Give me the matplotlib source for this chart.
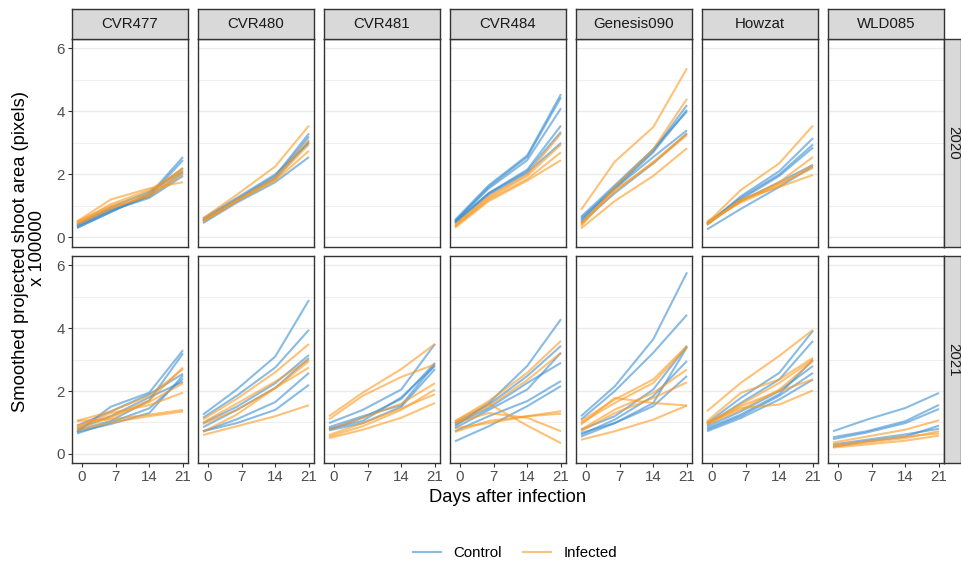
import matplotlib
matplotlib.use("Agg")
import matplotlib.pyplot as plt
from matplotlib.lines import Line2D

plt.rcParams['font.family'] = ['Liberation Sans', 'DejaVu Sans']

genotypes = ["CVR477", "CVR480", "CVR481", "CVR484", "Genesis090", "Howzat", "WLD085"]
years = ["2020", "2021"]
days = [-1, 6, 14, 21]

control_2020 = {
    "CVR477": [[0.30, 0.80, 1.35, 2.55], [0.35, 0.85, 1.30, 2.45], [0.40, 0.90, 1.30, 2.05],
               [0.35, 0.85, 1.25, 1.95], [0.30, 0.80, 1.40, 2.20], [0.40, 0.95, 1.45, 2.10]],
    "CVR480": [[0.45, 1.10, 1.75, 2.55], [0.55, 1.20, 1.95, 3.30], [0.55, 1.20, 1.90, 3.20],
               [0.50, 1.15, 1.85, 3.05], [0.60, 1.25, 2.00, 3.00]],
    "CVR481": [],
    "CVR484": [[0.55, 1.65, 2.60, 4.55], [0.50, 1.60, 2.55, 4.45], [0.50, 1.55, 2.45, 4.10],
               [0.45, 1.40, 2.15, 3.55], [0.50, 1.40, 2.10, 3.35], [0.45, 1.35, 2.05, 3.00]],
    "Genesis090": [[0.55, 1.60, 2.75, 4.20], [0.50, 1.55, 2.70, 4.05], [0.60, 1.55, 2.55, 3.40],
                   [0.45, 1.40, 2.35, 3.30], [0.65, 1.65, 2.80, 4.00]],
    "Howzat": [[0.40, 1.30, 2.10, 3.15], [0.45, 1.25, 2.00, 2.95], [0.40, 1.20, 1.95, 2.85],
               [0.25, 0.90, 1.60, 2.25], [0.45, 1.15, 1.75, 2.30]],
    "WLD085": [],
}
infected_2020 = {
    "CVR477": [[0.50, 1.20, 1.55, 1.75], [0.45, 1.05, 1.50, 2.15], [0.50, 1.00, 1.40, 2.20],
               [0.45, 0.95, 1.30, 2.00], [0.40, 0.90, 1.35, 2.10]],
    "CVR480": [[0.60, 1.35, 2.25, 3.55], [0.50, 1.15, 1.80, 2.75], [0.55, 1.20, 1.85, 2.95],
               [0.50, 1.15, 1.90, 3.10]],
    "CVR481": [],
    "CVR484": [[0.40, 1.30, 2.00, 3.30], [0.35, 1.25, 1.95, 2.95], [0.35, 1.20, 1.85, 2.70],
               [0.30, 1.15, 1.80, 2.45]],
    "Genesis090": [[0.87, 2.40, 3.50, 5.37], [0.35, 1.60, 2.80, 4.40], [0.45, 1.50, 2.35, 3.25],
                   [0.28, 1.15, 1.95, 2.83], [0.40, 1.45, 2.40, 3.30]],
    "Howzat": [[0.45, 1.50, 2.35, 3.55], [0.40, 1.15, 1.75, 2.55], [0.50, 1.10, 1.65, 2.30],
               [0.45, 1.15, 1.70, 2.20], [0.40, 1.20, 1.60, 1.98]],
    "WLD085": [],
}
control_2021 = {
    "CVR477": [[0.70, 1.50, 1.95, 3.30], [0.75, 1.05, 1.70, 3.20], [0.70, 0.95, 1.30, 2.50],
               [0.65, 1.00, 1.45, 2.40], [0.80, 1.20, 1.80, 2.30], [0.90, 1.35, 1.90, 2.55]],
    "CVR480": [[1.25, 2.05, 3.10, 4.90], [1.15, 1.85, 2.75, 3.95], [0.98, 1.50, 2.25, 3.15],
               [0.72, 1.10, 1.65, 2.58], [0.72, 0.98, 1.40, 2.20], [0.85, 1.40, 2.10, 3.05]],
    "CVR481": [[0.98, 1.40, 2.05, 3.50], [0.77, 1.15, 1.75, 2.90], [0.75, 0.98, 1.50, 2.70],
               [0.80, 1.05, 1.80, 2.80], [0.85, 1.20, 1.55, 2.85]],
    "CVR484": [[0.88, 1.62, 2.80, 4.29], [0.98, 1.57, 2.48, 3.44], [0.93, 1.46, 2.26, 2.90],
               [0.72, 1.20, 1.68, 2.32], [0.40, 0.88, 1.52, 2.16], [0.82, 1.40, 2.05, 3.22]],
    "Genesis090": [[1.20, 2.15, 3.65, 5.78], [1.09, 2.00, 3.22, 4.43], [0.77, 1.20, 2.05, 3.44],
                   [0.61, 1.09, 1.84, 2.96], [0.66, 0.98, 1.52, 2.48], [0.55, 0.98, 1.62, 3.40]],
    "Howzat": [[0.98, 1.78, 2.58, 3.92], [0.93, 1.62, 2.37, 3.60], [0.88, 1.35, 2.00, 2.80],
               [0.77, 1.20, 1.85, 2.58], [0.72, 1.14, 1.73, 2.37], [0.82, 1.25, 1.90, 3.00]],
    "WLD085": [[0.72, 1.09, 1.46, 1.94], [0.53, 0.72, 1.04, 1.56], [0.47, 0.68, 0.98, 1.43],
               [0.23, 0.40, 0.55, 0.90], [0.30, 0.45, 0.62, 0.80]],
}
infected_2021 = {
    "CVR477": [[1.05, 1.10, 1.25, 1.40], [0.85, 1.30, 1.55, 1.95], [1.05, 1.35, 1.85, 2.70],
               [0.90, 1.20, 1.70, 2.75], [0.80, 1.15, 1.65, 2.25], [0.75, 1.00, 1.20, 1.35]],
    "CVR480": [[1.10, 1.75, 2.60, 3.50], [1.00, 1.60, 2.30, 3.00], [0.95, 1.40, 2.10, 2.95],
               [0.70, 1.25, 2.10, 2.75], [0.60, 0.88, 1.20, 1.55]],
    "CVR481": [[1.20, 1.95, 2.70, 3.50], [1.10, 1.85, 2.45, 2.85], [0.77, 1.15, 1.60, 2.25],
               [0.55, 0.88, 1.40, 2.05], [0.50, 0.77, 1.15, 1.62], [0.60, 0.98, 1.45, 1.90]],
    "CVR484": [[1.04, 1.68, 2.58, 3.60], [0.98, 1.52, 2.35, 3.22], [1.04, 1.60, 0.90, 0.34],
               [0.98, 1.30, 1.15, 0.72], [0.82, 0.98, 1.20, 1.36], [0.70, 1.05, 1.20, 1.28]],
    "Genesis090": [[1.04, 1.73, 2.37, 3.44], [0.98, 1.62, 2.26, 3.40], [0.93, 1.78, 1.62, 1.54],
                   [0.45, 0.72, 1.09, 1.54], [0.77, 1.41, 1.94, 2.69], [0.72, 1.30, 1.78, 2.28]],
    "Howzat": [[1.36, 2.26, 3.12, 3.95], [1.04, 1.94, 2.37, 3.06], [0.98, 1.57, 2.26, 3.00],
               [1.00, 1.46, 1.57, 2.02], [0.93, 1.52, 2.00, 2.37], [0.95, 1.40, 2.05, 2.95]],
    "WLD085": [[0.36, 0.55, 0.77, 1.07], [0.23, 0.36, 0.50, 0.72], [0.20, 0.30, 0.42, 0.58],
               [0.28, 0.40, 0.55, 0.65]],
}

control = {"2020": control_2020, "2021": control_2021}
infected = {"2020": infected_2020, "2021": infected_2021}

col_ctrl = "#3d8fd1"
col_inf = "#fb9a22"
line_alpha = 0.6

W, H = 962, 562
fig = plt.figure(figsize=(W / 100, H / 100), dpi=100)


def px_axes(x0, y0, x1, y1):
    return fig.add_axes([x0 / W, 1 - y1 / H, (x1 - x0) / W, (y1 - y0) / H])


panel_w = 116.6
col_x = [71.7 + 126 * i for i in range(7)]
row_y = [(39.0, 246.7), (256.0, 463.3)]
border = "#333333"

for r, yr in enumerate(years):
    y0, y1 = row_y[r]
    for c, g in enumerate(genotypes):
        x0 = col_x[c]
        ax = px_axes(x0, y0, x0 + panel_w, y1)
        ax.set_xlim(-2.1, 22.1)
        ax.set_ylim(-0.3, 6.3)
        ax.set_yticks([0, 2, 4, 6])
        ax.set_yticks([1, 3, 5], minor=True)
        ax.set_xticks([0, 7, 14, 21])
        ax.set_xticks([], minor=True)
        ax.grid(True, axis="y", which="major", color="#EBEBEB", lw=1.0)
        ax.grid(True, axis="y", which="minor", color="#EBEBEB", lw=0.55)
        ax.set_axisbelow(True)
        for s in ax.spines.values():
            s.set_color(border)
            s.set_linewidth(1.0)
        ax.tick_params(which="major", length=3.0, width=0.8, color=border,
                       labelsize=10.8, labelcolor="#4D4D4D", pad=2)
        ax.tick_params(which="minor", length=0)
        if c != 0:
            ax.tick_params(axis="y", left=False, labelleft=False)
        if r == 0:
            ax.tick_params(axis="x", bottom=False, labelbottom=False)

        for vals in control[yr][g]:
            ax.plot(days, vals, color=col_ctrl, alpha=line_alpha, lw=1.5,
                    solid_capstyle="butt", solid_joinstyle="round")
        for vals in infected[yr][g]:
            ax.plot(days, vals, color=col_inf, alpha=line_alpha, lw=1.5,
                    solid_capstyle="butt", solid_joinstyle="round")

        # top strip
        if r == 0:
            sx = px_axes(x0, 9.3, x0 + panel_w, 39.0)
            sx.set_facecolor("#D9D9D9")
            sx.set_xticks([])
            sx.set_yticks([])
            for s in sx.spines.values():
                s.set_color(border)
                s.set_linewidth(1.0)
            sx.text(0.5, 0.5, g, ha="center", va="center", fontsize=10.8,
                    color="#1A1A1A", transform=sx.transAxes)

    # right strip
    sy = px_axes(944.3, y0, 961.5, y1)
    sy.set_facecolor("#D9D9D9")
    sy.set_xticks([])
    sy.set_yticks([])
    for s in sy.spines.values():
        s.set_color(border)
        s.set_linewidth(1.0)
    sy.text(0.5, 0.5, yr, ha="center", va="center", rotation=-90, fontsize=10.8,
            color="#1A1A1A", transform=sy.transAxes)

fig.text(508 / W, 1 - 497 / H, "Days after infection", ha="center", va="center",
         fontsize=13.2, color="black")
fig.text(29 / W, 1 - 251 / H, "Smoothed projected shoot area (pixels)\n x 100000",
         ha="center", va="center", rotation=90, fontsize=13.2, color="black",
         multialignment="center", linespacing=1.0)

handles = [Line2D([], [], color=col_ctrl, alpha=line_alpha, lw=1.5),
           Line2D([], [], color=col_inf, alpha=line_alpha, lw=1.5)]
fig.legend(handles, ["Control", "Infected"], loc="center", ncol=2,
           bbox_to_anchor=(515 / W, 1 - 553 / H), frameon=False, fontsize=10.8,
           handlelength=1.9, handletextpad=0.8, columnspacing=1.4)

fig.savefig("out.png", dpi=100)
